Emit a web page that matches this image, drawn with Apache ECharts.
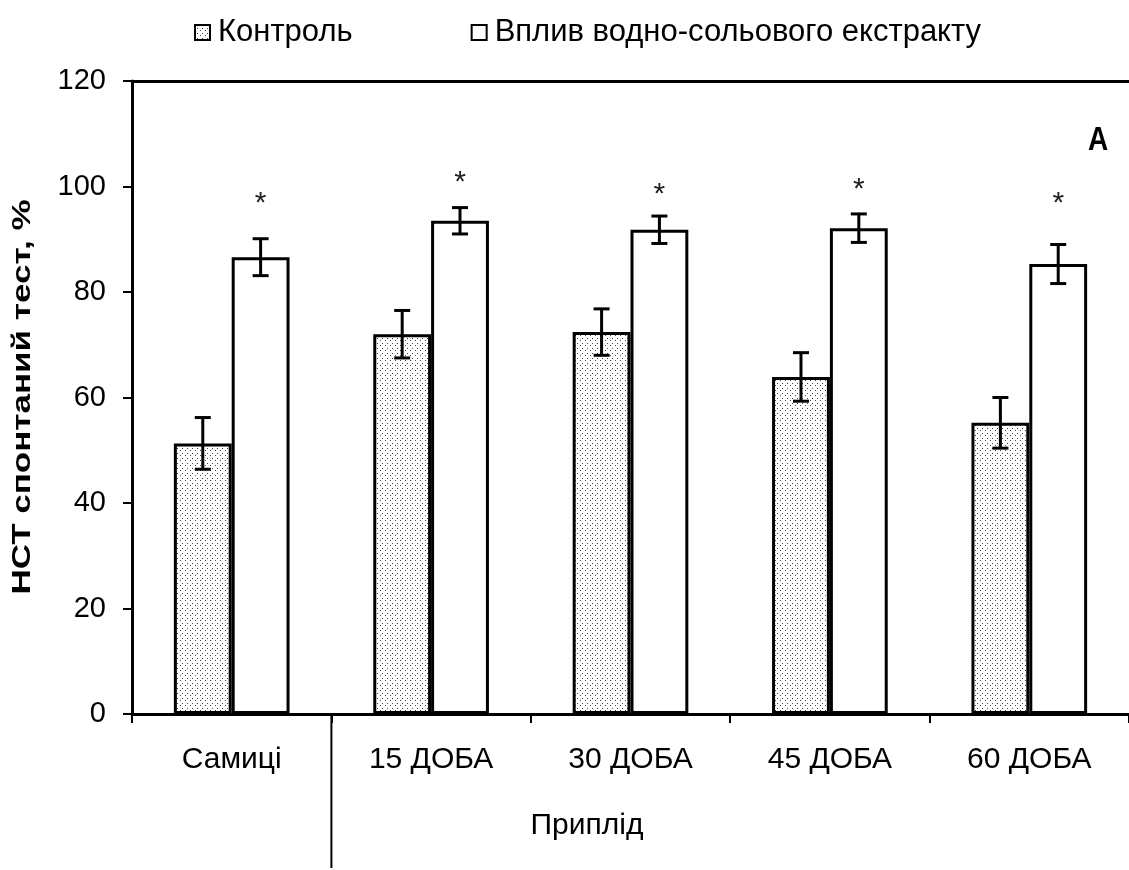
<!DOCTYPE html>
<html>
<head>
<meta charset="utf-8">
<script src="https://cdn.jsdelivr.net/npm/echarts@6/dist/echarts.min.js"></script>
<style>
  html, body { margin: 0; padding: 0; background: #fff; }
  #chart { width: 1129px; height: 870px; }
</style>
</head>
<body>
<div id="chart"></div>
<script>
// Categories and measured values (НСТ спонтанний тест, %)
const categories = ['Самиці', '15 ДОБА', '30 ДОБА', '45 ДОБА', '60 ДОБА'];
const controlValues = [51.3, 72.0, 72.4, 63.9, 55.2];
const controlErrors = [4.9, 4.5, 4.4, 4.6, 4.8];
const extractValues = [86.6, 93.5, 91.8, 92.1, 85.3];
const extractErrors = [3.5, 2.5, 2.6, 2.7, 3.7];
// Height at which the significance asterisk sits above each extract bar
const asteriskLevels = [98, 102, 99.7, 100.7, 98];
const yTicks = { min: 0, max: 120, interval: 20 };

const seriesNames = ['Контроль', 'Вплив водно-сольового екстракту'];
const FONT = "'Liberation Sans', Arial, sans-serif";

// Stippled fill for the control bars
function dotPattern() {
  const c = document.createElement('canvas');
  c.width = 5; c.height = 5;
  const g = c.getContext('2d');
  g.fillStyle = '#ffffff';
  g.fillRect(0, 0, 5, 5);
  g.fillStyle = '#444444';
  g.fillRect(0, 0, 1, 1);
  g.fillRect(2, 3, 1, 1);
  return c;
}

const BAR_GAP_RATIO = 0.42;           // barCategoryGap
const barShare = (1 - BAR_GAP_RATIO) / 2;

function errorBarRenderer(side, errors) {
  return function (params, api) {
    const idx = api.value(0);
    const v = api.value(1);
    const e = errors[idx];
    const band = api.size([1, 0])[0];
    const dx = side * band * barShare / 2;
    const top = api.coord([idx, v + e]);
    const bot = api.coord([idx, v - e]);
    const x = top[0] + dx;
    const cap = 8;
    const style = { stroke: '#000', lineWidth: 3 };
    return {
      type: 'group',
      children: [
        { type: 'line', shape: { x1: x, y1: top[1], x2: x, y2: bot[1] }, style },
        { type: 'line', shape: { x1: x - cap, y1: top[1], x2: x + cap, y2: top[1] }, style },
        { type: 'line', shape: { x1: x - cap, y1: bot[1], x2: x + cap, y2: bot[1] }, style }
      ]
    };
  };
}

const chart = echarts.init(document.getElementById('chart'), null, { renderer: 'canvas' });

const option = {
  animation: false,
  backgroundColor: '#ffffff',
  grid: { left: 132, top: 81, bottom: 156, width: 1005, containLabel: false },
  legend: {
    left: 189, top: 12,
    icon: 'rect',
    itemWidth: 15, itemHeight: 15, itemGap: 118,
    itemStyle: { borderWidth: 2, borderColor: '#000' },
    textStyle: { fontFamily: FONT, fontSize: 31, color: '#000', padding: [0, 0, 0, 3] },
    data: seriesNames
  },
  xAxis: [
    {
      type: 'category', data: categories, position: 'bottom',
      axisLine: { lineStyle: { color: '#000', width: 3 } },
      axisTick: { show: true, length: 9, lineStyle: { color: '#000', width: 2 } },
      axisLabel: { fontFamily: FONT, fontSize: 30, color: '#000', margin: 31 }
    },
    {
      type: 'category', data: categories, position: 'top',
      axisLine: { lineStyle: { color: '#000', width: 3 } },
      axisTick: { show: false }, axisLabel: { show: false }
    }
  ],
  yAxis: {
    type: 'value', min: yTicks.min, max: yTicks.max, interval: yTicks.interval,
    axisLine: { show: true, lineStyle: { color: '#000', width: 3 } },
    axisTick: { show: true, length: 9, lineStyle: { color: '#000', width: 2 } },
    axisLabel: { fontFamily: FONT, fontSize: 29, color: '#000', margin: 26 },
    splitLine: { show: false }
  },
  series: [
    {
      name: seriesNames[0], type: 'bar', data: controlValues,
      barGap: '0%', barCategoryGap: (BAR_GAP_RATIO * 100) + '%',
      itemStyle: { color: { image: dotPattern(), repeat: 'repeat' }, borderColor: '#000', borderWidth: 3 }
    },
    {
      name: seriesNames[1], type: 'bar', data: extractValues,
      barGap: '0%', barCategoryGap: (BAR_GAP_RATIO * 100) + '%',
      itemStyle: { color: '#ffffff', borderColor: '#000', borderWidth: 3 }
    },
    {
      type: 'custom', name: 'err-control', silent: true, z: 5,
      renderItem: errorBarRenderer(-1, controlErrors),
      data: controlValues.map((v, i) => [i, v])
    },
    {
      type: 'custom', name: 'err-extract', silent: true, z: 5,
      renderItem: errorBarRenderer(1, extractErrors),
      data: extractValues.map((v, i) => [i, v])
    },
    {
      type: 'custom', name: 'asterisks', silent: true, z: 5,
      renderItem: function (params, api) {
        const idx = api.value(0);
        const band = api.size([1, 0])[0];
        const p = api.coord([idx, api.value(1)]);
        // the '*' glyph sits high in its line box, so drop the box to centre the glyph
        return {
          type: 'text',
          x: p[0] + band * barShare / 2, y: p[1] + 7,
          style: { text: '*', font: '30px ' + FONT, fill: '#222', align: 'center', verticalAlign: 'middle' }
        };
      },
      data: asteriskLevels.map((v, i) => [i, v])
    }
  ]
};

chart.setOption(option);

// Annotations: axis title, panel letter, group caption and the divider under the axis
const axisZero = chart.convertToPixel({ yAxisIndex: 0 }, 0);
const c0 = chart.convertToPixel({ xAxisIndex: 0 }, 0);
const c1 = chart.convertToPixel({ xAxisIndex: 0 }, 1);
const dividerX = (c0 + c1) / 2;

chart.setOption({
  graphic: [
    {
      type: 'text', x: 23, y: 397, rotation: Math.PI / 2,
      scaleX: 1.4,
      style: { text: 'НСТ спонтаний тест, %', font: 'bold 25px ' + FONT, fill: '#000', align: 'center', verticalAlign: 'middle' }
    },
    {
      type: 'text', x: 1098, y: 141,
      scaleY: 1.2,
      style: { text: 'A', font: 'bold 28px ' + FONT, fill: '#000', align: 'center', verticalAlign: 'middle' }
    },
    {
      type: 'text', x: 587, y: 826,
      style: { text: 'Приплід', font: '30px ' + FONT, fill: '#000', align: 'center', verticalAlign: 'middle' }
    },
    {
      type: 'line', shape: { x1: dividerX, y1: axisZero, x2: dividerX, y2: 868 },
      style: { stroke: '#000', lineWidth: 2 }
    }
  ]
});
</script>
</body>
</html>
